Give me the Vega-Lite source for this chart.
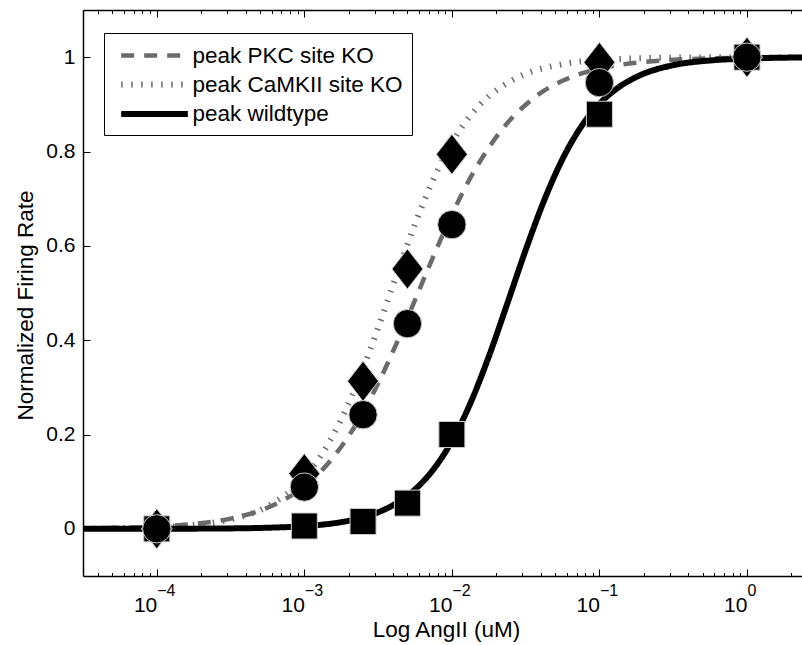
{
  "$schema": "https://vega.github.io/schema/vega-lite/v6.json",
  "width": 719,
  "height": 566,
  "autosize": {"type": "none"},
  "padding": {"left": 83, "top": 10, "right": 0, "bottom": 69},
  "background": "white",
  "config": {
    "view": {"stroke": null},
    "axis": {"labelFont": "Liberation Sans", "titleFont": "Liberation Sans", "labelColor": "black", "titleColor": "black", "tickColor": "black", "domainColor": "black", "grid": false, "titleFontWeight": "normal", "labelFlush": false, "labelOverlap": false}
  },
  "datasets": {
    "camk": [
      {"series": "peak CaMKII site KO", "x": 3.1623e-5, "y": 0.0006},
      {"series": "peak CaMKII site KO", "x": 5.6234e-5, "y": 0.0014},
      {"series": "peak CaMKII site KO", "x": 1e-4, "y": 0.0033},
      {"series": "peak CaMKII site KO", "x": 1.7783e-4, "y": 0.0082},
      {"series": "peak CaMKII site KO", "x": 3.1623e-4, "y": 0.0199},
      {"series": "peak CaMKII site KO", "x": 5.6234e-4, "y": 0.0474},
      {"series": "peak CaMKII site KO", "x": 1e-3, "y": 0.109},
      {"series": "peak CaMKII site KO", "x": 1.3335e-3, "y": 0.161},
      {"series": "peak CaMKII site KO", "x": 1.7783e-3, "y": 0.232},
      {"series": "peak CaMKII site KO", "x": 2.3714e-3, "y": 0.321},
      {"series": "peak CaMKII site KO", "x": 3.1623e-3, "y": 0.426},
      {"series": "peak CaMKII site KO", "x": 4.217e-3, "y": 0.538},
      {"series": "peak CaMKII site KO", "x": 5.6234e-3, "y": 0.646},
      {"series": "peak CaMKII site KO", "x": 7.4989e-3, "y": 0.741},
      {"series": "peak CaMKII site KO", "x": 1e-2, "y": 0.818},
      {"series": "peak CaMKII site KO", "x": 1.3335e-2, "y": 0.876},
      {"series": "peak CaMKII site KO", "x": 1.7783e-2, "y": 0.917},
      {"series": "peak CaMKII site KO", "x": 2.3714e-2, "y": 0.945},
      {"series": "peak CaMKII site KO", "x": 3.1623e-2, "y": 0.965},
      {"series": "peak CaMKII site KO", "x": 4.217e-2, "y": 0.977},
      {"series": "peak CaMKII site KO", "x": 5.6234e-2, "y": 0.985},
      {"series": "peak CaMKII site KO", "x": 7.4989e-2, "y": 0.991},
      {"series": "peak CaMKII site KO", "x": 0.1, "y": 0.994},
      {"series": "peak CaMKII site KO", "x": 0.13335, "y": 0.996},
      {"series": "peak CaMKII site KO", "x": 0.17783, "y": 0.9975},
      {"series": "peak CaMKII site KO", "x": 0.31623, "y": 0.999},
      {"series": "peak CaMKII site KO", "x": 0.56234, "y": 0.9996},
      {"series": "peak CaMKII site KO", "x": 1, "y": 0.9998},
      {"series": "peak CaMKII site KO", "x": 1.5849, "y": 0.9999},
      {"series": "peak CaMKII site KO", "x": 2.3605, "y": 1.0}
    ],
    "pkc": [
      {"series": "peak PKC site KO", "x": 3.1623e-5, "y": 0.0011},
      {"series": "peak PKC site KO", "x": 5.6234e-5, "y": 0.0023},
      {"series": "peak PKC site KO", "x": 1e-4, "y": 0.0049},
      {"series": "peak PKC site KO", "x": 1.7783e-4, "y": 0.0104},
      {"series": "peak PKC site KO", "x": 3.1623e-4, "y": 0.0217},
      {"series": "peak PKC site KO", "x": 5.6234e-4, "y": 0.0448},
      {"series": "peak PKC site KO", "x": 1e-3, "y": 0.090},
      {"series": "peak PKC site KO", "x": 1.3335e-3, "y": 0.126},
      {"series": "peak PKC site KO", "x": 1.7783e-3, "y": 0.174},
      {"series": "peak PKC site KO", "x": 2.3714e-3, "y": 0.234},
      {"series": "peak PKC site KO", "x": 3.1623e-3, "y": 0.308},
      {"series": "peak PKC site KO", "x": 4.217e-3, "y": 0.393},
      {"series": "peak PKC site KO", "x": 5.6234e-3, "y": 0.485},
      {"series": "peak PKC site KO", "x": 7.4989e-3, "y": 0.578},
      {"series": "peak PKC site KO", "x": 1e-2, "y": 0.666},
      {"series": "peak PKC site KO", "x": 1.3335e-2, "y": 0.744},
      {"series": "peak PKC site KO", "x": 1.7783e-2, "y": 0.808},
      {"series": "peak PKC site KO", "x": 2.3714e-2, "y": 0.860},
      {"series": "peak PKC site KO", "x": 3.1623e-2, "y": 0.899},
      {"series": "peak PKC site KO", "x": 4.217e-2, "y": 0.929},
      {"series": "peak PKC site KO", "x": 5.6234e-2, "y": 0.950},
      {"series": "peak PKC site KO", "x": 7.4989e-2, "y": 0.965},
      {"series": "peak PKC site KO", "x": 0.1, "y": 0.976},
      {"series": "peak PKC site KO", "x": 0.13335, "y": 0.983},
      {"series": "peak PKC site KO", "x": 0.17783, "y": 0.988},
      {"series": "peak PKC site KO", "x": 0.31623, "y": 0.9945},
      {"series": "peak PKC site KO", "x": 0.56234, "y": 0.9974},
      {"series": "peak PKC site KO", "x": 1, "y": 0.9988},
      {"series": "peak PKC site KO", "x": 1.5849, "y": 0.9993},
      {"series": "peak PKC site KO", "x": 2.3605, "y": 0.9996}
    ],
    "wt": [
      {"series": "peak wildtype", "x": 3.1623e-5, "y": 0.0},
      {"series": "peak wildtype", "x": 5.6234e-5, "y": 0.0001},
      {"series": "peak wildtype", "x": 1e-4, "y": 0.0001},
      {"series": "peak wildtype", "x": 1.7783e-4, "y": 0.0004},
      {"series": "peak wildtype", "x": 3.1623e-4, "y": 0.0009},
      {"series": "peak wildtype", "x": 5.6234e-4, "y": 0.0023},
      {"series": "peak wildtype", "x": 1e-3, "y": 0.0057},
      {"series": "peak wildtype", "x": 1.3335e-3, "y": 0.0090},
      {"series": "peak wildtype", "x": 1.7783e-3, "y": 0.0142},
      {"series": "peak wildtype", "x": 2.3714e-3, "y": 0.0224},
      {"series": "peak wildtype", "x": 3.1623e-3, "y": 0.0350},
      {"series": "peak wildtype", "x": 4.217e-3, "y": 0.0545},
      {"series": "peak wildtype", "x": 5.6234e-3, "y": 0.0836},
      {"series": "peak wildtype", "x": 7.4989e-3, "y": 0.126},
      {"series": "peak wildtype", "x": 1e-2, "y": 0.186},
      {"series": "peak wildtype", "x": 1.3335e-2, "y": 0.266},
      {"series": "peak wildtype", "x": 1.7783e-2, "y": 0.365},
      {"series": "peak wildtype", "x": 2.3714e-2, "y": 0.477},
      {"series": "peak wildtype", "x": 3.1623e-2, "y": 0.591},
      {"series": "peak wildtype", "x": 4.217e-2, "y": 0.696},
      {"series": "peak wildtype", "x": 5.6234e-2, "y": 0.784},
      {"series": "peak wildtype", "x": 7.4989e-2, "y": 0.852},
      {"series": "peak wildtype", "x": 0.1, "y": 0.901},
      {"series": "peak wildtype", "x": 0.13335, "y": 0.935},
      {"series": "peak wildtype", "x": 0.17783, "y": 0.958},
      {"series": "peak wildtype", "x": 0.31623, "y": 0.983},
      {"series": "peak wildtype", "x": 0.56234, "y": 0.993},
      {"series": "peak wildtype", "x": 1, "y": 0.997},
      {"series": "peak wildtype", "x": 1.5849, "y": 0.9987},
      {"series": "peak wildtype", "x": 2.3605, "y": 0.9993}
    ],
    "pts_camk": [
      {"x": 1e-4, "y": 0.0}, {"x": 1e-3, "y": 0.117}, {"x": 2.5e-3, "y": 0.313}, {"x": 5e-3, "y": 0.551}, {"x": 1e-2, "y": 0.794}, {"x": 0.1, "y": 0.989}, {"x": 1, "y": 1.0}
    ],
    "pts_wt": [
      {"x": 1e-4, "y": 0.0}, {"x": 1e-3, "y": 0.006}, {"x": 2.5e-3, "y": 0.0155}, {"x": 5e-3, "y": 0.0545}, {"x": 1e-2, "y": 0.2}, {"x": 0.1, "y": 0.879}, {"x": 1, "y": 1.0}
    ],
    "pts_pkc": [
      {"x": 1e-4, "y": 0.0}, {"x": 1e-3, "y": 0.0885}, {"x": 2.5e-3, "y": 0.242}, {"x": 5e-3, "y": 0.435}, {"x": 1e-2, "y": 0.645}, {"x": 0.1, "y": 0.946}, {"x": 1, "y": 1.0}
    ]
  },
  "resolve": {"axis": {"x": "independent", "y": "independent"}},
  "layer": [
    {
      "data": {"name": "camk"},
      "mark": {"type": "line", "interpolate": "monotone", "strokeCap": "butt", "strokeJoin": "round"},
      "encoding": {
        "x": {"field": "x", "type": "quantitative", "scale": {"type": "log", "domain": [3.1623e-5, 2.3605], "nice": false, "zero": false},
          "axis": {"orient": "bottom", "values": [0.0001, 0.001, 0.01, 0.1, 1], "ticks": false, "domain": true, "domainWidth": 1.5, "labelExpr": "'10'", "labelAlign": "right", "labelBaseline": "alphabetic", "labelPadding": 35, "labelFontSize": 21, "title": "Log AngII (uM)", "titleFontSize": 22.5, "titleX": 363, "titleY": 60, "titleBaseline": "alphabetic", "titleAlign": "center"}},
        "y": {"field": "y", "type": "quantitative", "scale": {"domain": [-0.1, 1.1], "nice": false, "zero": false},
          "axis": {"orient": "left", "values": [0, 0.2, 0.4, 0.6, 0.8, 1], "ticks": false, "domain": true, "domainWidth": 1.5, "format": "~g", "labelFontSize": 21, "labelPadding": 8, "labelAlign": "right", "labelBaseline": "middle", "title": "Normalized Firing Rate", "titleFontSize": 22.5, "titleX": -51, "titleY": 295, "titleAngle": -90, "titleBaseline": "alphabetic", "titleAlign": "center"}},
        "color": {"field": "series", "type": "nominal",
          "scale": {"domain": ["peak PKC site KO", "peak CaMKII site KO", "peak wildtype"], "range": ["#6b6b6b", "#6b6b6b", "#000000"]},
          "legend": {"orient": "none", "legendX": 21, "legendY": 23, "title": null, "symbolType": "M-3.03,0H3.03", "symbolSize": 484, "symbolOffset": 27.5, "labelOffset": 24, "labelFont": "Liberation Sans", "labelFontSize": 22.5, "labelColor": "black", "labelLimit": 400, "padding": 9, "rowPadding": 3.5, "strokeColor": "black", "fillColor": "white", "cornerRadius": 0}},
        "strokeDash": {"field": "series", "type": "nominal",
          "scale": {"domain": ["peak PKC site KO", "peak CaMKII site KO", "peak wildtype"], "range": [[13, 10], [1.5, 8.5], [1, 0]]}},
        "strokeWidth": {"field": "series", "type": "nominal",
          "scale": {"type": "ordinal", "domain": ["peak PKC site KO", "peak CaMKII site KO", "peak wildtype"], "range": [4.5, 6, 6]}}
      }
    },
    {
      "data": {"name": "pkc"},
      "mark": {"type": "line", "interpolate": "monotone", "strokeCap": "butt", "strokeJoin": "round"},
      "encoding": {
        "x": {"field": "x", "type": "quantitative", "scale": {"type": "log", "domain": [3.1623e-5, 2.3605], "nice": false, "zero": false},
          "axis": {"orient": "bottom", "values": [0.0001, 0.001, 0.01, 0.1, 1], "ticks": false, "domain": false, "labelExpr": "datum.value >= 0.5 ? '0' : '\u2212' + format(-log(datum.value)/LN10, '.0f')", "labelAlign": "left", "labelBaseline": "alphabetic", "labelPadding": 19, "labelFontSize": 16, "title": null}},
        "y": {"field": "y", "type": "quantitative", "scale": {"domain": [-0.1, 1.1], "nice": false, "zero": false},
          "axis": {"orient": "left", "values": [0, 0.2, 0.4, 0.6, 0.8, 1], "ticks": true, "tickSize": -7, "tickWidth": 1, "labels": false, "domain": false, "title": null}},
        "color": {"field": "series", "type": "nominal", "scale": {"domain": ["peak PKC site KO", "peak CaMKII site KO", "peak wildtype"], "range": ["#6b6b6b", "#6b6b6b", "#000000"]}},
        "strokeDash": {"field": "series", "type": "nominal", "scale": {"domain": ["peak PKC site KO", "peak CaMKII site KO", "peak wildtype"], "range": [[13, 10], [1.5, 8.5], [1, 0]]}},
        "strokeWidth": {"field": "series", "type": "nominal", "scale": {"type": "ordinal", "domain": ["peak PKC site KO", "peak CaMKII site KO", "peak wildtype"], "range": [4.5, 6, 6]}}
      }
    },
    {
      "data": {"name": "wt"},
      "mark": {"type": "line", "interpolate": "monotone", "strokeCap": "butt", "strokeJoin": "round"},
      "encoding": {
        "x": {"field": "x", "type": "quantitative", "scale": {"type": "log", "domain": [3.1623e-5, 2.3605], "nice": false, "zero": false},
          "axis": {"orient": "bottom", "values": [0.0001, 0.001, 0.01, 0.1, 1], "ticks": true, "tickSize": -7, "tickWidth": 1, "labels": false, "domain": false, "title": null}},
        "y": {"field": "y", "type": "quantitative", "scale": {"domain": [-0.1, 1.1], "nice": false, "zero": false}, "axis": null},
        "color": {"field": "series", "type": "nominal", "scale": {"domain": ["peak PKC site KO", "peak CaMKII site KO", "peak wildtype"], "range": ["#6b6b6b", "#6b6b6b", "#000000"]}},
        "strokeDash": {"field": "series", "type": "nominal", "scale": {"domain": ["peak PKC site KO", "peak CaMKII site KO", "peak wildtype"], "range": [[13, 10], [1.5, 8.5], [1, 0]]}},
        "strokeWidth": {"field": "series", "type": "nominal", "scale": {"type": "ordinal", "domain": ["peak PKC site KO", "peak CaMKII site KO", "peak wildtype"], "range": [4.5, 6, 6]}}
      }
    },
    {
      "data": {"name": "pts_camk"},
      "mark": {"type": "point", "filled": true, "shape": "M0,-1.29L1,0L0,1.29L-1,0Z", "size": 961, "fill": "black", "stroke": "#cccccc", "strokeWidth": 1, "opacity": 1},
      "encoding": {
        "x": {"field": "x", "type": "quantitative", "scale": {"type": "log", "domain": [3.1623e-5, 2.3605], "nice": false, "zero": false},
          "axis": {"orient": "bottom", "values": [4e-5, 5e-5, 6e-5, 7e-5, 8e-5, 9e-5, 2e-4, 3e-4, 4e-4, 5e-4, 6e-4, 7e-4, 8e-4, 9e-4, 2e-3, 3e-3, 4e-3, 5e-3, 6e-3, 7e-3, 8e-3, 9e-3, 2e-2, 3e-2, 4e-2, 5e-2, 6e-2, 7e-2, 8e-2, 9e-2, 0.2, 0.3, 0.4, 0.5, 0.6, 0.7, 0.8, 0.9, 2], "ticks": true, "tickSize": -3.5, "tickWidth": 1, "labels": false, "domain": false, "title": null}},
        "y": {"field": "y", "type": "quantitative", "scale": {"domain": [-0.1, 1.1], "nice": false, "zero": false}, "axis": null}
      }
    },
    {
      "data": {"name": "pts_wt"},
      "mark": {"type": "point", "filled": true, "shape": "square", "size": 676, "fill": "black", "stroke": "#cccccc", "strokeWidth": 1, "opacity": 1},
      "encoding": {
        "x": {"field": "x", "type": "quantitative", "scale": {"type": "log", "domain": [3.1623e-5, 2.3605], "nice": false, "zero": false},
          "axis": {"orient": "top", "values": [0.0001, 0.001, 0.01, 0.1, 1], "ticks": true, "tickSize": -7, "tickWidth": 1, "labels": false, "domain": true, "domainWidth": 1.5, "title": null}},
        "y": {"field": "y", "type": "quantitative", "scale": {"domain": [-0.1, 1.1], "nice": false, "zero": false}, "axis": null}
      }
    },
    {
      "data": {"name": "pts_pkc"},
      "mark": {"type": "point", "filled": true, "shape": "circle", "size": 804, "fill": "black", "stroke": "#cccccc", "strokeWidth": 1, "opacity": 1},
      "encoding": {
        "x": {"field": "x", "type": "quantitative", "scale": {"type": "log", "domain": [3.1623e-5, 2.3605], "nice": false, "zero": false},
          "axis": {"orient": "top", "values": [4e-5, 5e-5, 6e-5, 7e-5, 8e-5, 9e-5, 2e-4, 3e-4, 4e-4, 5e-4, 6e-4, 7e-4, 8e-4, 9e-4, 2e-3, 3e-3, 4e-3, 5e-3, 6e-3, 7e-3, 8e-3, 9e-3, 2e-2, 3e-2, 4e-2, 5e-2, 6e-2, 7e-2, 8e-2, 9e-2, 0.2, 0.3, 0.4, 0.5, 0.6, 0.7, 0.8, 0.9, 2], "ticks": true, "tickSize": -3.5, "tickWidth": 1, "labels": false, "domain": false, "title": null}},
        "y": {"field": "y", "type": "quantitative", "scale": {"domain": [-0.1, 1.1], "nice": false, "zero": false}, "axis": null}
      }
    }
  ]
}
